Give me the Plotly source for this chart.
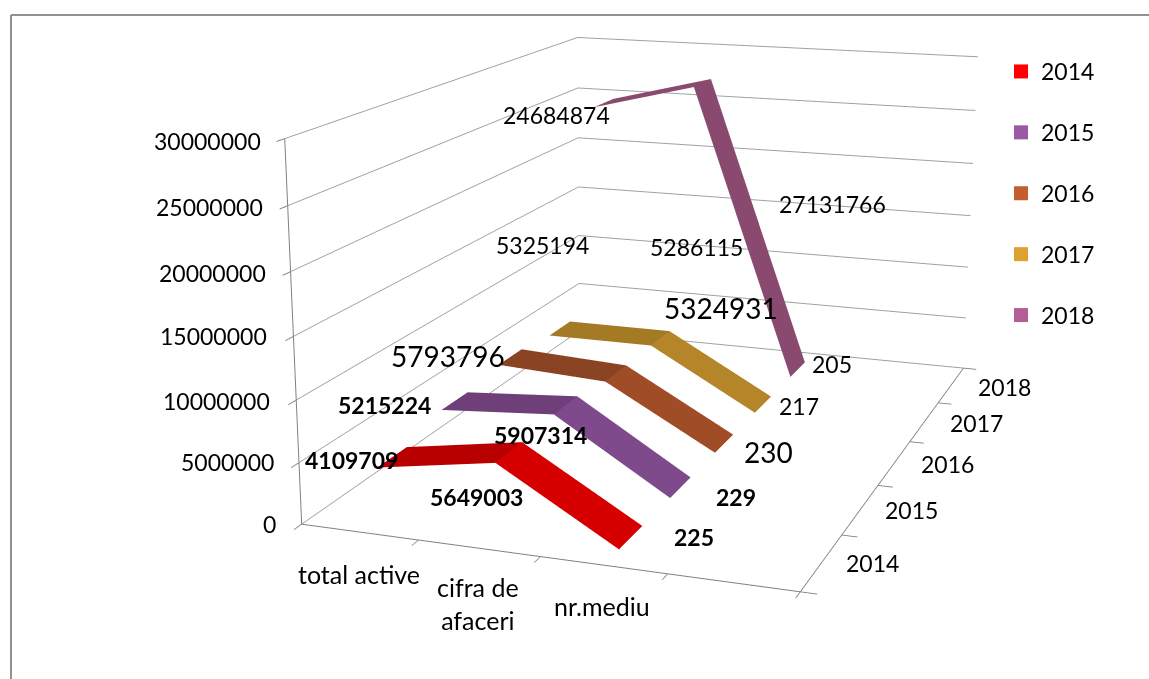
import plotly.graph_objects as go

# ---- data ----
categories = ["total active", "cifra de<br>afaceri", "nr.mediu"]
years = ["2014", "2015", "2016", "2017", "2018"]
v2014 = [4109709, 5649003, 225]
v2015 = [5215224, 5907314, 229]
v2016 = [5793796, 5286115, 230]
v2017 = [5325194, 5324931, 217]
v2018 = [24684874, 27131766, 205]
series = [v2014, v2015, v2016, v2017, v2018]
z_ticks = [0, 5000000, 10000000, 15000000, 20000000, 25000000, 30000000]

# ---- styles ----
legend_colors = ["#ff0000", "#9a58a5", "#c45e2e", "#dea02e", "#b65d94"]
seg1_colors = ["#b80000", "#6e3f78", "#8b4423", "#a47a25", "#8a4a70"]
seg2_colors = ["#d60000", "#7f4a8c", "#a04c27", "#b5852a", "#8a4a70"]
RIBBON = 0.44
FONT = "Lato"
label_sizes = [[23, 23, 23], [23, 23, 23], [28, 23, 28], [23, 28, 23], [23, 23, 23]]
label_bold = [[True, True, True], [True, True, True], [False] * 3, [False] * 3, [False] * 3]
label_shift = [[(-41, -3), (-32, -45), (63, 1)],
               [(-70, -4), (-25, -30), (55, -9)],
               [(-62, 1), (81, 126), (44, -8)],
               [(-17, 83), (61, 30), (36, -1)],
               [(-47, -12), (130, -121), (34, 6)]]
z_shift = [(-32, 0), (-71, 1), (-80, -1), (-80, 0), (-78, -1), (-78, -1), (-77, -2)]
x_shift = [(-1, -42), (-1, -55), (-1, -41)]
y_shift = [(51, -1), (51, -1), (53, -1), (52, -1), (53, -2)]

# ---- page geometry: the scene's projection centre has to sit at (621, 345) ----
FIG_W, FIG_H, TOP = 1242, 1747, -528
px = lambda X: X / FIG_W
py = lambda Y: 1 - (Y - TOP) / FIG_H

fig = go.Figure()
for j, vals in enumerate(series):
    xs, ys, zs = [], [], []
    for i, v in enumerate(vals):
        xs += [i + 0.5, i + 0.5]
        ys += [j + 0.5 - RIBBON / 2, j + 0.5 + RIBBON / 2]
        zs += [v, v]
    fig.add_trace(go.Mesh3d(
        x=xs, y=ys, z=zs, i=[0, 1, 2, 3], j=[1, 3, 3, 5], k=[2, 2, 4, 4],
        facecolor=[seg1_colors[j], seg1_colors[j], seg2_colors[j], seg2_colors[j]],
        flatshading=True, lighting=dict(ambient=1, diffuse=0, specular=0, fresnel=0),
        hoverinfo="skip", showlegend=False))
    fig.add_trace(go.Scatter3d(
        x=[None], y=[None], z=[None], mode="markers", name=years[j], legendgroup=years[j],
        marker=dict(symbol="square", size=14, color=legend_colors[j]), hoverinfo="skip"))

annotations = []
def note(x, y, z, text, shift, size=23, bold=False):
    annotations.append(dict(x=x, y=y, z=z, text=text, showarrow=False, xanchor="center", yanchor="middle",
                            xshift=shift[0], yshift=shift[1],
                            font=dict(family=FONT, size=size, color="black", weight="bold" if bold else "normal")))

for j, vals in enumerate(series):
    for i, v in enumerate(vals):
        note(i + 0.5, j + 0.5, v, str(v), label_shift[j][i], label_sizes[j][i], label_bold[j][i])
for v, s in zip(z_ticks, z_shift):
    note(0, 0, v, str(v), s)
for i, (c, s) in enumerate(zip(categories, x_shift)):
    note(i + 0.5, 0, 0, c, s, size=25)
for j, (y, s) in enumerate(zip(years, y_shift)):
    note(4, j + 0.5, 0, y, s)

axis = dict(showbackground=False, title="", showticklabels=False, zeroline=False, showspikes=False,
            showline=True, linecolor="#808080", linewidth=2, ticks="outside", tickcolor="#808080",
            ticklen=12, tickwidth=2, gridcolor="#a0a0a0", gridwidth=2)
fig.update_layout(
    width=FIG_W, height=FIG_H, margin=dict(l=0, r=0, t=0, b=0), paper_bgcolor="white", autosize=False,
    font=dict(family=FONT, size=23, color="black"),
    legend=dict(x=px(1001), y=py(50), xanchor="left", yanchor="top", font=dict(family=FONT, size=23, color="black"),
                tracegroupgap=28, itemsizing="trace", bgcolor="rgba(0,0,0,0)"),
    shapes=[dict(type="line", xref="paper", yref="paper", x0=px(11), y0=py(15), x1=px(1149), y1=py(15),
                 line=dict(color="#919191", width=2)),
            dict(type="line", xref="paper", yref="paper", x0=px(11), y0=py(15), x1=px(11), y1=py(679),
                 line=dict(color="#919191", width=2))],
    scene=dict(
        domain=dict(x=[0, 1], y=[0, 1]),
        aspectmode="manual", aspectratio=dict(x=1.3212, y=1.9843, z=1.0),
        camera=dict(eye=dict(x=1.8408, y=-5.4876, z=1.4154), center=dict(x=-0.0616, y=-0.2416, z=-0.1657),
                    up=dict(x=0.0014, y=0.0005, z=1), projection=dict(type="perspective")),
        xaxis=dict(axis, range=[0, 4], tickvals=[0, 1, 2, 3, 4], showgrid=False),
        yaxis=dict(axis, range=[0, 5], tickvals=[0, 1, 2, 3, 4, 5], showgrid=False),
        zaxis=dict(axis, range=[0, 30000000], tickvals=z_ticks, showgrid=True),
        annotations=annotations,
    ),
)
post = ("document.documentElement.style.overflow='hidden';document.body.style.overflow='hidden';"
        "document.body.style.margin='0';var g=document.getElementById('{plot_id}');"
        "g.style.position='absolute';g.style.left='0';g.style.top='%dpx';" % TOP)
fig.write_html("out.html", post_script=post, config=dict(displayModeBar=False))
